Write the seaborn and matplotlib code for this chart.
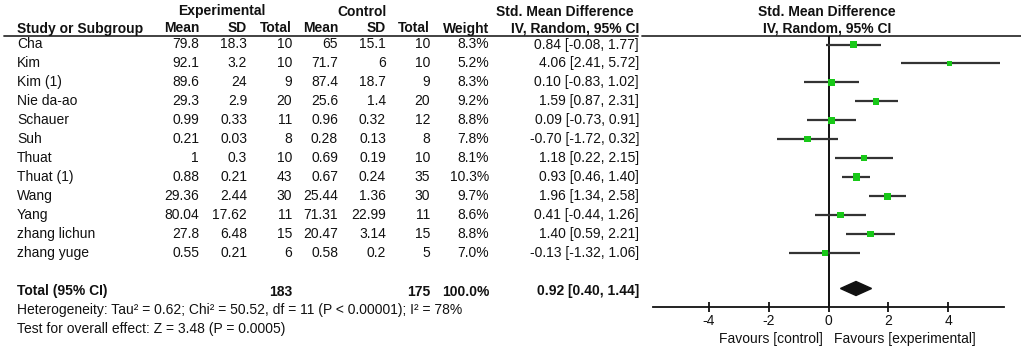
import matplotlib
matplotlib.use("Agg")
import matplotlib.pyplot as plt
from matplotlib.patches import Polygon
import seaborn as sns
import numpy as np
import pandas as pd

# ---------------- data ----------------
studies = ["Cha", "Kim", "Kim (1)", "Nie da-ao", "Schauer", "Suh", "Thuat",
           "Thuat (1)", "Wang", "Yang", "zhang lichun", "zhang yuge"]
exp_mean = [79.8, 92.1, 89.6, 29.3, 0.99, 0.21, 1, 0.88, 29.36, 80.04, 27.8, 0.55]
exp_sd = [18.3, 3.2, 24, 2.9, 0.33, 0.03, 0.3, 0.21, 2.44, 17.62, 6.48, 0.21]
exp_n = [10, 10, 9, 20, 11, 8, 10, 43, 30, 11, 15, 6]
ctl_mean = [65, 71.7, 87.4, 25.6, 0.96, 0.28, 0.69, 0.67, 25.44, 71.31, 20.47, 0.58]
ctl_sd = [15.1, 6, 18.7, 1.4, 0.32, 0.13, 0.19, 0.24, 1.36, 22.99, 3.14, 0.2]
ctl_n = [10, 10, 9, 20, 12, 8, 10, 35, 30, 11, 15, 5]
weight = [8.3, 5.2, 8.3, 9.2, 8.8, 7.8, 8.1, 10.3, 9.7, 8.6, 8.8, 7.0]
smd = [0.84, 4.06, 0.10, 1.59, 0.09, -0.70, 1.18, 0.93, 1.96, 0.41, 1.40, -0.13]
ci_low = [-0.08, 2.41, -0.83, 0.87, -0.73, -1.72, 0.22, 0.46, 1.34, -0.44, 0.59, -1.32]
ci_high = [1.77, 5.72, 1.02, 2.31, 0.91, 0.32, 2.15, 1.40, 2.58, 1.26, 2.21, 1.06]

total_exp_n = 183
total_ctl_n = 175
total_weight = 100.0
total_smd = 0.92
total_low = 0.40
total_high = 1.44

x_ticks = [-4, -2, 0, 2, 4]
heterogeneity = "Heterogeneity: Tau\u00b2 = 0.62; Chi\u00b2 = 50.52, df = 11 (P < 0.00001); I\u00b2 = 78%"
overall = "Test for overall effect: Z = 3.48 (P = 0.0005)"
fav_left = "Favours [control]"
fav_right = "Favours [experimental]"

# ---------------- style ----------------
sns.set_theme(style="white")
plt.rcParams["font.family"] = ["Liberation Sans", "DejaVu Sans"]
plt.rcParams["axes.unicode_minus"] = False
FS = 10
INK = "#111111"
LINE = "#333333"
GREEN = "#18c818"

W, H = 1021, 350
fig = plt.figure(figsize=(W / 100, H / 100), dpi=100)

# background axes in pixel coordinates for the table
bg = fig.add_axes([0, 0, 1, 1])
bg.set_xlim(0, W)
bg.set_ylim(H, 0)
bg.axis("off")

row0, step = 44.5, 18.95
rows_y = [row0 + i * step for i in range(len(studies))]
y_total, y_het, y_test = 291.5, 310.0, 329.0
y_h1, y_h2 = 11.5, 28.5

col_name = 17
col_right = {"em": 199, "esd": 247, "en": 292, "cm": 338, "csd": 386,
             "cn": 430, "w": 489, "ci": 639}

def t(x, y, s, ha="right", bold=False):
    bg.text(x, y, s, ha=ha, va="center", fontsize=FS, color=INK,
            fontweight="bold" if bold else "normal")

def g(v):
    return f"{v:g}"

# headers
t(222, y_h1, "Experimental", ha="center", bold=True)
t(362, y_h1, "Control", ha="center", bold=True)
t(565, y_h1, "Std. Mean Difference", ha="center", bold=True)
t(827, y_h1, "Std. Mean Difference", ha="center", bold=True)
t(col_name, y_h2, "Study or Subgroup", ha="left", bold=True)
for key, lab in [("em", "Mean"), ("esd", "SD"), ("en", "Total"), ("cm", "Mean"),
                 ("csd", "SD"), ("cn", "Total"), ("w", "Weight"),
                 ("ci", "IV, Random, 95% CI")]:
    t(col_right[key], y_h2, lab, bold=True)
t(827, y_h2, "IV, Random, 95% CI", ha="center", bold=True)
bg.plot([4, 638], [35.5, 35.5], color=LINE, lw=1.3)
bg.plot([642, W], [35.5, 35.5], color=LINE, lw=1.3)

# study rows
for i, y in enumerate(rows_y):
    t(col_name, y, studies[i], ha="left")
    t(col_right["em"], y, g(exp_mean[i]))
    t(col_right["esd"], y, g(exp_sd[i]))
    t(col_right["en"], y, g(exp_n[i]))
    t(col_right["cm"], y, g(ctl_mean[i]))
    t(col_right["csd"], y, g(ctl_sd[i]))
    t(col_right["cn"], y, g(ctl_n[i]))
    t(col_right["w"], y, f"{weight[i]:.1f}%")
    t(col_right["ci"], y, f"{smd[i]:.2f} [{ci_low[i]:.2f}, {ci_high[i]:.2f}]")

# total
t(col_name, y_total, "Total (95% CI)", ha="left", bold=True)
t(col_right["en"], y_total, str(total_exp_n), bold=True)
t(col_right["cn"], y_total, str(total_ctl_n), bold=True)
t(col_right["w"], y_total, f"{total_weight:.1f}%", bold=True)
t(col_right["ci"], y_total, f"{total_smd:.2f} [{total_low:.2f}, {total_high:.2f}]", bold=True)
t(col_name, y_het, heterogeneity, ha="left")
t(col_name, y_test, overall, ha="left")

# ---------------- forest axes ----------------
x0_px, x1_px = 653, 1004
fx = fig.add_axes([x0_px / W, 0, (x1_px - x0_px) / W, 1])
fx.patch.set_alpha(0)
fx.set_xlim(-5.87, 5.87)
fx.set_ylim(H, 0)
for s in ["top", "left", "right"]:
    fx.spines[s].set_visible(False)
fx.spines["bottom"].set_position(("data", 307))
fx.spines["bottom"].set_color(INK)
fx.spines["bottom"].set_linewidth(1.3)
fx.set_xticks(x_ticks)
fx.set_xticklabels([str(v) for v in x_ticks])
fx.tick_params(axis="x", direction="inout", length=7, width=1.3, colors=INK,
               labelsize=FS, pad=1.5, bottom=True)
fx.set_yticks([])
fx.grid(False)

fx.vlines(0, 36, 307, color=INK, lw=1.4, zorder=1)
fx.hlines(rows_y, ci_low, ci_high, color=LINE, lw=1.6, zorder=2)

df = pd.DataFrame({"smd": smd, "y": rows_y, "w": weight})
sns.scatterplot(data=df, x="smd", y="y", size="w", sizes=(12, 28), marker="s",
                color=GREEN, edgecolor="none", linewidth=0, legend=False,
                ax=fx, zorder=3)
fx.set_xlabel("")
fx.set_ylabel("")
fx.set_xlim(-5.87, 5.87)
fx.set_ylim(H, 0)

fx.add_patch(Polygon([(total_low, y_total - 3.0), (total_smd, y_total - 10.0),
                      (total_high, y_total - 3.0), (total_smd, y_total + 4.0)],
                     closed=True, color=INK, zorder=3))

bg.text(823, 338.5, fav_left, ha="right", va="center", fontsize=FS, color=INK)
bg.text(834, 338.5, fav_right, ha="left", va="center", fontsize=FS, color=INK)

fig.savefig("out.png", dpi=100)
